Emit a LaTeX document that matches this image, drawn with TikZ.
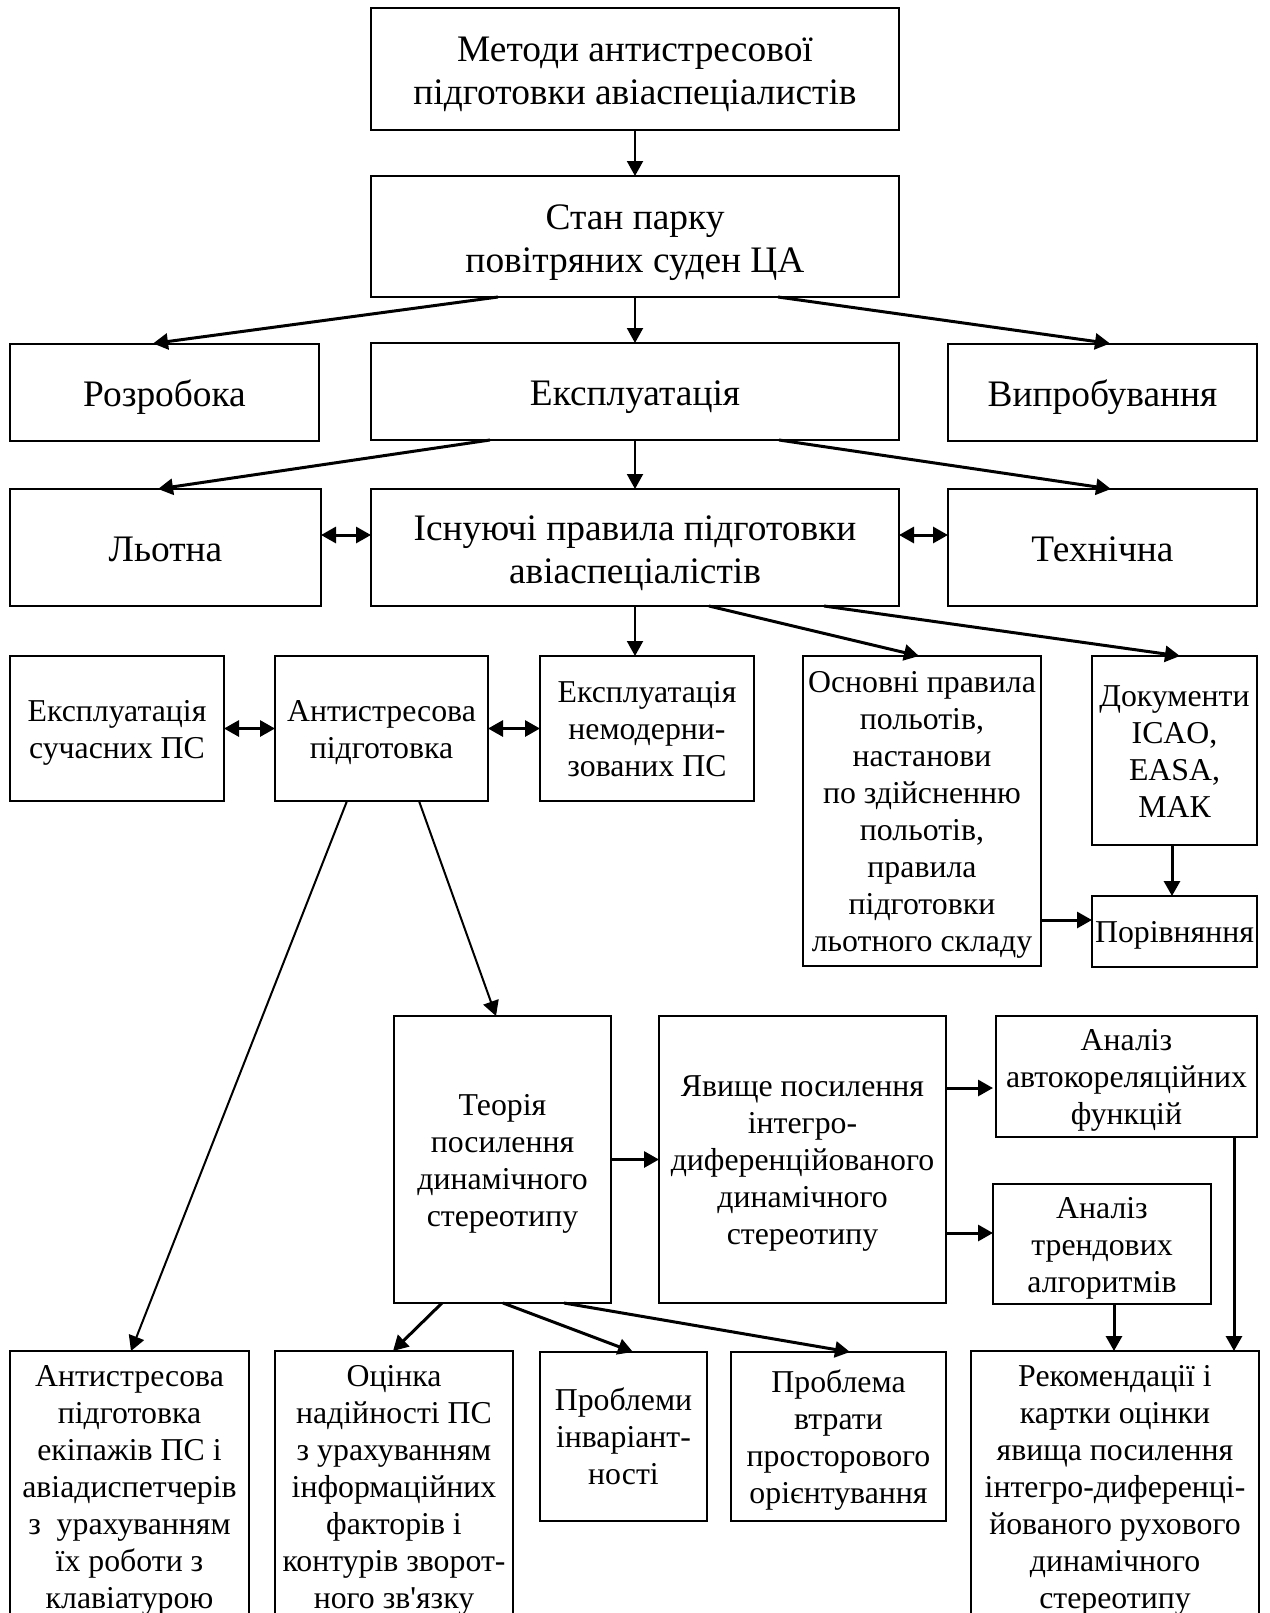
\documentclass[tikz,border=0pt]{standalone}
\usepackage{fontspec}
\setmainfont{Liberation Serif}
\newfontfamily\nomap{Liberation Serif}[Ligatures=TeXOff]
\usetikzlibrary{arrows.meta,calc}
\newlength\tdrop
\newcommand\T[1]{\raisebox{-\tdrop}[\height][\depth]{\begin{tabular}{@{}c@{}}#1\end{tabular}}}
\begin{document}
\begin{tikzpicture}[x=0.5pt,y=-0.5pt,
  box/.style={draw,line width=1pt,inner sep=0pt,outer sep=0pt},
  big/.style={box,font=\fontsize{18.7}{21.5}\selectfont\setlength\tdrop{2.7pt}},
  small/.style={box,font=\fontsize{15.9}{18.5}\selectfont\setlength\tdrop{2pt}},
  arr/.style={-{Triangle[length=7.5pt,width=8pt]},line width=1.5pt},
  tarr/.style={-{Triangle[length=7.5pt,width=8pt]},line width=1pt},
  barr/.style={{Triangle[length=7.5pt,width=8pt]}-{Triangle[length=7.5pt,width=8pt]},line width=1.5pt}]
\useasboundingbox (0,0) rectangle (1270,1613);
\clip (0,0) rectangle (1270,1613);
% row 1-2
\node[big,minimum width=264pt,minimum height=61pt] (top) at (635,69) {\T{Методи антистресової\\підготовки авіаспеціалистів}};
\node[big,minimum width=264pt,minimum height=60.5pt] (stan) at (635,236.5) {\T{Стан парку\\повітряних суден ЦА}};
% row 3
\node[big,minimum width=154.5pt,minimum height=48.5pt] (rozr) at (164.5,392) {\T{Розробока}};
\node[big,minimum width=264pt,minimum height=48.5pt] (expl) at (635,391.5) {\T{Експлуатація}};
\node[big,minimum width=154.5pt,minimum height=48.5pt] (vypr) at (1102.5,392) {\T{Випробування}};
% row 4
\node[big,minimum width=155.5pt,minimum height=58.5pt] (lotna) at (165.5,547.5) {\T{Льотна}};
\node[big,minimum width=264pt,minimum height=58.5pt] (isn) at (635,547.5) {\T{Існуючі правила підготовки\\авіаспеціалістів}};
\node[big,minimum width=154.5pt,minimum height=58.5pt] (tekh) at (1102.5,547.5) {\T{Технічна}};
% row 5
\node[small,minimum width=107pt,minimum height=72.5pt] (es) at (117,728.5) {\T{Експлуатація\\сучасних ПС}};
\node[small,minimum width=106.5pt,minimum height=72.5pt] (ap) at (381.5,728.5) {\T{Антистресова\\підготовка}};
\node[small,minimum width=107pt,minimum height=72.5pt] (en) at (647,728.5) {\T{Експлуатація\\немодерни-\\зованих ПС}};
\node[small,minimum width=119pt,minimum height=155pt] (osn) at (922,811) {\T{Основні правила\\польотів,\\настанови\\по здійсненню\\польотів,\\правила\\підготовки\\льотного складу}};
\node[small,minimum width=82.5pt,minimum height=94.5pt] (doc) at (1174.5,750.5) {\T{Документи\\ICAO,\\EASA,\\МАК}};
\node[small,minimum width=82.5pt,minimum height=35.5pt] (por) at (1174.5,931.5) {\T{Порівняння}};
% row 6
\node[small,minimum width=108.5pt,minimum height=143.5pt] (teor) at (502.5,1159.5) {\T{Теорія\\посилення\\динамічного\\стереотипу}};
\node[small,minimum width=143.5pt,minimum height=143.5pt] (yav) at (802.5,1159.5) {\T{Явище посилення\\інтегро-\\диференційованого\\динамічного\\стереотипу}};
\node[small,minimum width=130.5pt,minimum height=60.5pt] (avt) at (1126.5,1076.5) {\T{Аналіз\\автокореляційних\\функцій}};
\node[small,minimum width=109pt,minimum height=60pt] (trend) at (1102,1244) {\T{Аналіз\\трендових\\алгоритмів}};
% row 7
\node[small,minimum width=119.5pt,minimum height=135pt] (b1) at (129.5,1486) {\T{Антистресова\\підготовка\\екіпажів ПС і\\авіадиспетчерів\\з~~урахуванням\\їх роботи з\\клавіатурою}};
\node[small,minimum width=119pt,minimum height=135pt] (b2) at (394,1486) {\T{Оцінка\\надійності ПС\\з урахуванням\\інформаційних\\факторів і\\контурів зворот-\\ного зв{\nomap'}язку}};
\node[small,minimum width=83.5pt,minimum height=84.5pt] (b3) at (623.5,1436.5) {\T{Проблеми\\інваріант-\\ності}};
\node[small,minimum width=107.5pt,minimum height=84.5pt] (b4) at (838.5,1436.5) {\T{Проблема\\втрати\\просторового\\орієнтування}};
\node[small,minimum width=144pt,minimum height=135pt] (b5) at (1115,1486) {\T{Рекомендації і\\картки оцінки\\явища посилення\\інтегро-диференці-\\йованого рухового\\динамічного\\стереотипу}};
% connectors
\draw[tarr] (top.south) -- (stan.north);
\draw[arr] ($(stan.south west)+(127,0)$) -- ($(rozr.north west)+(143,0)$);
\draw[tarr] (stan.south) -- (expl.north);
\draw[arr] ($(stan.south west)+(407,0)$) -- ($(vypr.north west)+(162,0)$);
\draw[arr] ($(expl.south west)+(119,0)$) -- ($(lotna.north west)+(148,0)$);
\draw[tarr] (expl.south) -- (isn.north);
\draw[arr] ($(expl.south west)+(408,0)$) -- ($(tekh.north west)+(163,0)$);
\draw[barr] ($(lotna.east)+(0,-12.5)$) -- ($(isn.west)+(0,-12.5)$);
\draw[barr] ($(isn.east)+(0,-12.5)$) -- ($(tekh.west)+(0,-12.5)$);
\draw[barr] (es.east) -- (ap.west);
\draw[barr] (ap.east) -- (en.west);
\draw[tarr] (isn.south) -- (isn.south |- en.north);
\draw[arr] ($(isn.south west)+(338,0)$) -- ($(osn.north west)+(116,0)$);
\draw[arr] ($(isn.south west)+(453,0)$) -- ($(doc.north west)+(88,0)$);
\coordinate (p1) at ($(por.west)+(0,-11.5)$);
\draw[arr] (osn.east |- p1) -- (p1);
\draw[arr] ($(doc.south)+(-2.5,0)$) -- ($(por.north)+(-2.5,0)$);
\draw[tarr] ($(ap.south west)+(72,0)$) -- ($(b1.north west)+(121,0)$);
\draw[tarr] ($(ap.south west)+(144,0)$) -- ($(teor.north west)+(102,0)$);
\draw[arr] (teor.east) -- (yav.west);
\coordinate (p2) at ($(avt.west)+(-3,11.5)$);
\draw[arr] (yav.east |- p2) -- (p2);
\coordinate (p3) at ($(trend.west)+(0,-11)$);
\draw[arr] (yav.east |- p3) -- (p3);
\coordinate (p4) at ($(trend.south)+(12,0)$);
\draw[arr] (p4) -- (p4 |- b5.north);
\coordinate (p5) at ($(avt.south)+(107.5,0)$);
\draw[arr] (p5) -- (p5 |- b5.north);
\draw[arr] ($(teor.south west)+(48,0)$) -- ($(b2.north west)+(118,0)$);
\draw[arr] ($(teor.south west)+(109,0)$) -- ($(b3.north west)+(93,0)$);
\draw[arr] ($(teor.south west)+(170,0)$) -- ($(b4.north west)+(119,0)$);
\end{tikzpicture}
\end{document}
